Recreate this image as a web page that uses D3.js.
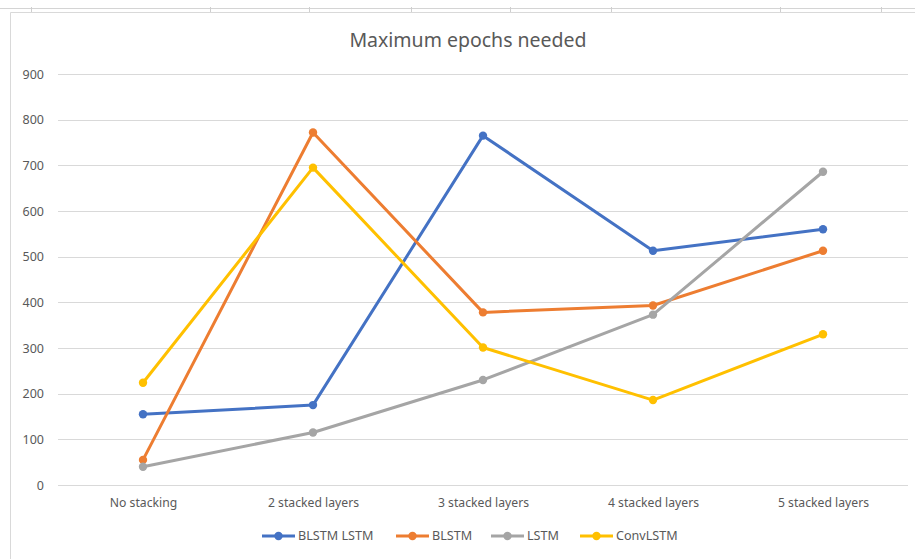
<!DOCTYPE html>
<html>
<head>
<meta charset="utf-8">
<script src="https://cdn.jsdelivr.net/npm/d3@7"></script>
<style>
    body { margin: 0; background: #fff; }
    svg text { font-family: "Noto Sans", "Open Sans", sans-serif; fill: #595959; }
</style>
</head>
<body>
<div id="chart"></div>
<script>
const categories = ["No stacking", "2 stacked layers", "3 stacked layers", "4 stacked layers", "5 stacked layers"];
const seriesNames = ["BLSTM LSTM", "BLSTM", "LSTM", "ConvLSTM"];
const blstmLstmValues = [155, 175, 765, 513, 560];
const blstmValues = [55, 772, 378, 393, 513];
const lstmValues = [40, 115, 230, 373, 686];
const convLstmValues = [224, 695, 301, 186, 330];
const yTicks = [0, 100, 200, 300, 400, 500, 600, 700, 800, 900];
const colors = ["#4472C4", "#ED7D31", "#A5A5A5", "#FFC000"];
const sheetColumnLines = [31, 210, 309, 411, 510, 611, 780, 881];

const width = 915, height = 559;
const margin = { top: 74, right: 7, bottom: 74, left: 58 };

const series = [blstmLstmValues, blstmValues, lstmValues, convLstmValues].map((values, i) => ({
    name: seriesNames[i],
    color: colors[i],
    points: values.map((v, j) => ({ cat: categories[j], value: v }))
}));

const svg = d3.select("#chart").append("svg")
    .attr("width", width)
    .attr("height", height);

// spreadsheet background bits above the chart
svg.append("line")
    .attr("x1", 0).attr("x2", width).attr("y1", 8.5).attr("y2", 8.5)
    .attr("stroke", "#d4d4d4");
svg.selectAll(".colline")
    .data(sheetColumnLines)
    .enter().append("line")
    .attr("x1", d => d + 0.5).attr("x2", d => d + 0.5)
    .attr("y1", 7).attr("y2", 12)
    .attr("stroke", "#cfcfcf");

// chart area border
svg.append("path")
    .attr("d", `M10.5,${height} V12.5 H${width}`)
    .attr("fill", "none")
    .attr("stroke", "#d9d9d9");

const x = d3.scalePoint()
    .domain(categories)
    .range([margin.left, width - margin.right])
    .padding(0.5);

const y = d3.scaleLinear()
    .domain([0, 900])
    .range([height - margin.bottom, margin.top]);

// gridlines
svg.append("g")
    .selectAll("line")
    .data(yTicks)
    .enter().append("line")
    .attr("x1", margin.left)
    .attr("x2", width - margin.right)
    .attr("y1", d => Math.round(y(d)) + 0.5)
    .attr("y2", d => Math.round(y(d)) + 0.5)
    .attr("stroke", "#d9d9d9")
    .attr("stroke-width", 1);

// y axis labels
const yAxis = svg.append("g")
    .attr("transform", `translate(${margin.left - 14},0)`)
    .call(d3.axisLeft(y).tickValues(yTicks).tickSize(0).tickPadding(0));
yAxis.select(".domain").remove();
yAxis.selectAll("text")
    .attr("font-size", "12.5px")
    .attr("fill", "#595959")
    .attr("font-family", "Noto Sans");

// x axis labels
const xAxis = svg.append("g")
    .attr("transform", `translate(0,${height - margin.bottom})`)
    .call(d3.axisBottom(x).tickSize(0).tickPadding(13));
xAxis.select(".domain").remove();
xAxis.selectAll("text")
    .attr("font-size", "12.2px")
    .attr("fill", "#595959")
    .attr("font-family", "Noto Sans");

// title
svg.append("text")
    .attr("x", 468)
    .attr("y", 47)
    .attr("text-anchor", "middle")
    .attr("font-size", "19.5px")
    .text("Maximum epochs needed");

const line = d3.line()
    .x(d => x(d.cat))
    .y(d => y(d.value));

const seriesG = svg.selectAll(".series")
    .data(series)
    .enter().append("g")
    .attr("class", "series");

seriesG.append("path")
    .attr("d", d => line(d.points))
    .attr("fill", "none")
    .attr("stroke", d => d.color)
    .attr("stroke-width", 3)
    .attr("stroke-linejoin", "round");

seriesG.each(function(s) {
    d3.select(this).selectAll("circle")
        .data(s.points)
        .enter().append("circle")
        .attr("cx", d => x(d.cat))
        .attr("cy", d => y(d.value))
        .attr("r", 4.2)
        .attr("fill", s.color);
});

// legend
const legendX = [262, 396, 491, 580];
const legend = svg.append("g")
    .attr("transform", "translate(0,536)");

const item = legend.selectAll(".legend-item")
    .data(series)
    .enter().append("g")
    .attr("class", "legend-item")
    .attr("transform", (d, i) => `translate(${legendX[i]},0)`);

item.append("line")
    .attr("x1", 0).attr("x2", 33)
    .attr("stroke", d => d.color)
    .attr("stroke-width", 3);
item.append("circle")
    .attr("cx", 16.5)
    .attr("r", 4.2)
    .attr("fill", d => d.color);
item.append("text")
    .attr("x", 36)
    .attr("dy", "0.35em")
    .attr("font-size", "12.6px")
    .text(d => d.name);
</script>
</body>
</html>
